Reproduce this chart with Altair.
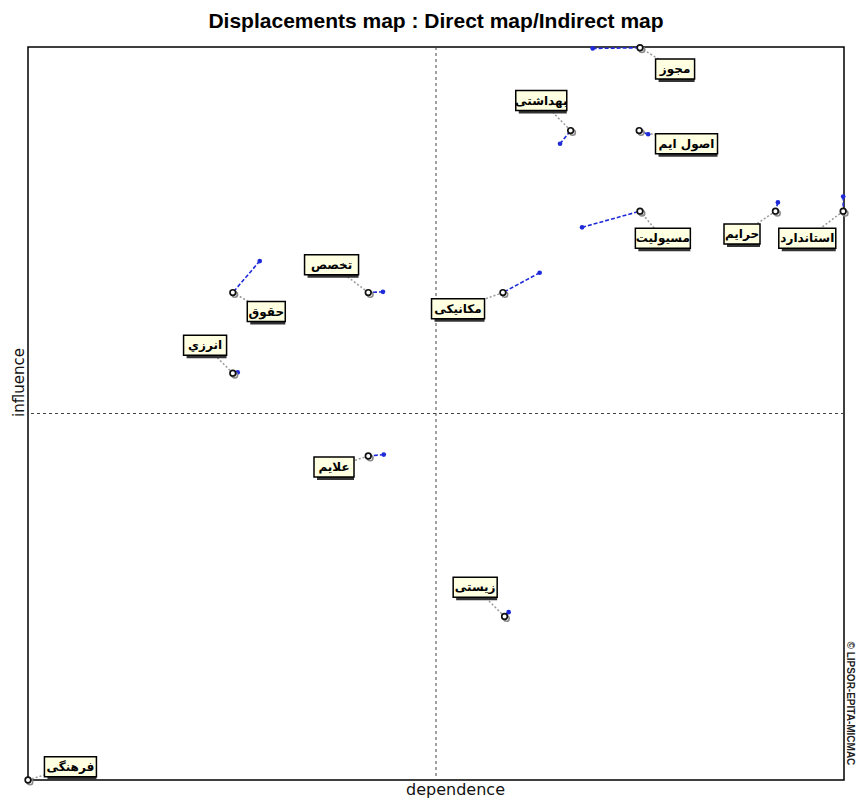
import altair as alt
import pandas as pd

# ---- data ----
labels = ["مجوز", "بهداشتی", "اصول ایم", "مسیولیت", "حرایم", "استاندارد", "تخصص",
          "حقوق", "انرزي", "مکانیکی", "علایم", "زیستی", "فرهنگی"]
direct_dep = [69.2, 65.2, 76.0, 67.9, 91.9, 99.9, 43.5, 28.4, 25.7, 62.7, 43.6, 58.9, 0.0]
direct_inf = [99.8, 86.8, 88.1, 75.4, 78.8, 79.6, 66.6, 70.8, 55.6, 69.2, 44.4, 22.9, 0.0]
indirect_dep = [75.0, 66.5, 74.9, 75.0, 91.6, 99.9, 41.7, 25.1, 25.1, 58.2, 41.7, 58.4, 0.0]
indirect_inf = [99.9, 88.6, 88.6, 77.6, 77.6, 77.6, 66.5, 66.5, 55.5, 66.5, 44.2, 22.3, 0.0]
# label placement (as in the reference)
label_dep = [79.3, 62.9, 80.7, 77.8, 87.5, 95.5, 37.2, 29.2, 21.7, 52.7, 37.5, 54.8, 5.2]
label_inf = [97.0, 92.7, 86.8, 73.9, 74.5, 73.9, 70.3, 63.9, 59.3, 64.3, 42.7, 26.3, 1.8]
label_box_w = [39, 51, 62, 55, 36, 57, 54, 38, 43, 53, 40, 44, 52]

W, H = 816, 733
BOX_H = 20
px_x = W / 100.0
px_y = H / 100.0

df = pd.DataFrame({
    "label": labels,
    "dx": direct_dep, "dy": direct_inf,
    "ix": indirect_dep, "iy": indirect_inf,
    "lx": label_dep, "ly": label_inf,
    "w": label_box_w,
})
df["bx1"] = df["lx"] - df["w"] / 2 / px_x
df["bx2"] = df["lx"] + df["w"] / 2 / px_x
df["by1"] = df["ly"] - BOX_H / 2 / px_y
df["by2"] = df["ly"] + BOX_H / 2 / px_y

xs = alt.Scale(domain=[0, 100], nice=False, zero=False)
ys = alt.Scale(domain=[0, 100], nice=False, zero=False)

xaxis = alt.Axis(title="dependence", labels=False, ticks=False, domain=False, grid=False,
                 titleFont="DejaVu Sans", titleFontSize=16, titleFontWeight="normal",
                 titlePadding=1, titleColor="#111", titleX=427)
yaxis = alt.Axis(title="influence", labels=False, ticks=False, domain=False, grid=False,
                 titleFont="DejaVu Sans", titleFontSize=15, titleFontWeight="normal",
                 titlePadding=2, titleColor="#111", titleY=335)

base = alt.Chart(df)

vline = alt.Chart(pd.DataFrame({"v": [50]})).mark_rule(
    color="#444", strokeDash=[3, 3], strokeWidth=1
).encode(x=alt.X("v:Q", scale=xs, axis=xaxis))
hline = alt.Chart(pd.DataFrame({"v": [50]})).mark_rule(
    color="#444", strokeDash=[3, 3], strokeWidth=1
).encode(y=alt.Y("v:Q", scale=ys, axis=yaxis))

leader = base.mark_rule(color="#9a9a9a", strokeDash=[2, 2], strokeWidth=1.5).encode(
    x=alt.X("ix:Q", scale=xs), y=alt.Y("iy:Q", scale=ys), x2="lx:Q", y2="ly:Q")

disp = base.mark_rule(color="#1f2bd8", strokeDash=[4, 2], strokeWidth=1.6).encode(
    x=alt.X("dx:Q", scale=xs), y=alt.Y("dy:Q", scale=ys), x2="ix:Q", y2="iy:Q")

ddot = base.mark_circle(color="#1f2bd8", size=22, opacity=1).encode(
    x=alt.X("dx:Q", scale=xs), y=alt.Y("dy:Q", scale=ys))

ishadow = base.mark_point(shape="circle", filled=False, stroke="#8a8a8a", strokeWidth=1.6,
                          size=30, xOffset=2, yOffset=2, opacity=1).encode(
    x=alt.X("ix:Q", scale=xs), y=alt.Y("iy:Q", scale=ys))
imark = base.mark_point(shape="circle", fill="white", fillOpacity=1, stroke="#111",
                        strokeWidth=1.7, size=32, opacity=1).encode(
    x=alt.X("ix:Q", scale=xs), y=alt.Y("iy:Q", scale=ys))

bshadow = base.mark_rect(fill="#333333", xOffset=3, yOffset=3).encode(
    x=alt.X("bx1:Q", scale=xs), x2="bx2:Q", y=alt.Y("by1:Q", scale=ys), y2="by2:Q")
box = base.mark_rect(fill="#FFFFE1", stroke="black", strokeWidth=1.5).encode(
    x=alt.X("bx1:Q", scale=xs), x2="bx2:Q", y=alt.Y("by1:Q", scale=ys), y2="by2:Q")
txt = base.mark_text(font="DejaVu Sans", fontSize=12, fontWeight="bold", color="black",
                     align="center", baseline="middle").encode(
    x=alt.X("lx:Q", scale=xs), y=alt.Y("ly:Q", scale=ys), text="label:N")

copy = alt.Chart(pd.DataFrame({"t": ["© LIPSOR-EPITA-MICMAC"]})).mark_text(
    font="Liberation Sans", fontSize=10, fontWeight="bold", color="#222",
    angle=90, align="center", baseline="bottom", dy=-1
).encode(x=alt.datum(100), y=alt.datum(10.45), text="t:N")

chart = alt.layer(vline, hline, leader, disp, ddot, ishadow, imark, bshadow, box, txt, copy).properties(
    width=W, height=H,
    background="white",
    title=alt.TitleParams("Displacements map : Direct map/Indirect map",
                          font="Liberation Sans", fontSize=21, fontWeight="bold",
                          anchor="middle", offset=10, color="black"),
    padding={"left": 20, "top": 39, "right": 13, "bottom": 19},
    autosize=alt.AutoSizeParams(type="none"),
).configure_view(stroke="black", strokeWidth=1.5, strokeOpacity=1)

chart.save("out.html", embed_options={"renderer": "svg", "actions": False})
